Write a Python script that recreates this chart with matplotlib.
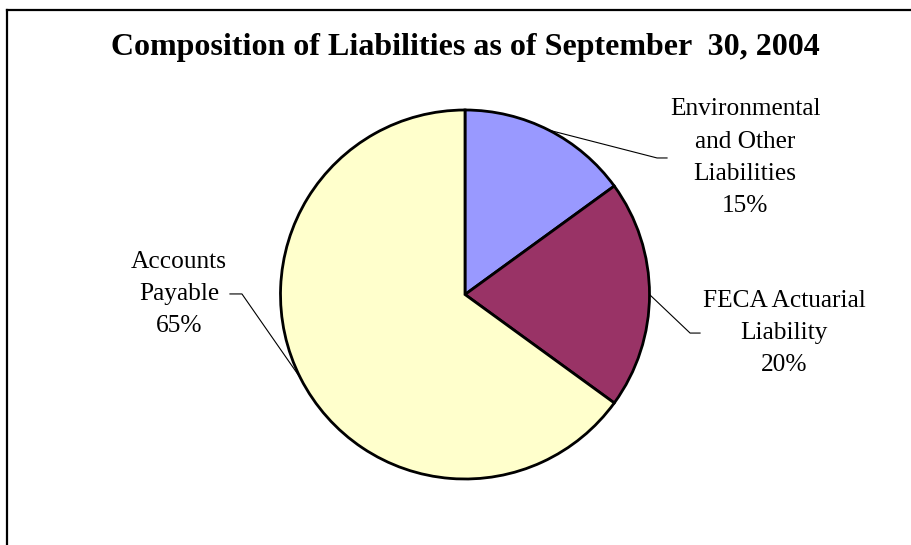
import matplotlib
matplotlib.use("Agg")
import matplotlib.pyplot as plt
from matplotlib.lines import Line2D
import numpy as np

plt.rcParams['font.family'] = ['Liberation Serif', 'DejaVu Serif']

title = "Composition of Liabilities as of September  30, 2004"
categories = ["Environmental\nand Other\nLiabilities", "FECA Actuarial\nLiability", "Accounts\nPayable"]
values = [15, 20, 65]
colors = ["#9999FF", "#993366", "#FFFFCC"]

W, H = 912, 545
fig = plt.figure(figsize=(W / 100, H / 100), dpi=100)

# frame (left and top edges visible)
fig.add_artist(Line2D([7 / W, 7 / W], [0, 1 - 10 / H], transform=fig.transFigure, color="black", lw=1.6))
fig.add_artist(Line2D([7 / W, 1], [1 - 10 / H, 1 - 10 / H], transform=fig.transFigure, color="black", lw=1.6))

cx, cy, r = 465, 294.5, 184.5
ax = fig.add_axes([(cx - r) / W, (H - cy - r) / H, 2 * r / W, 2 * r / H])
wedges, _ = ax.pie(values, colors=colors, startangle=90, counterclock=False, radius=1,
                   wedgeprops=dict(edgecolor="black", linewidth=2))
ax.set_xlim(-1, 1)
ax.set_ylim(-1, 1)
ax.set_aspect("equal")
ax.axis("off")

# layout of labels: (elbow point, end of horizontal, text center) in pie units
layout = [
    ((1.041, 0.740), (1.095, 0.740), (1.518, 0.742)),
    ((1.220, -0.209), (1.274, -0.209), (1.729, -0.209)),
    ((-1.209, 0.003), (-1.274, 0.003), (-1.550, 0.003)),
]

for w, cat, v, (elb, end, tc) in zip(wedges, categories, values, layout):
    ang = np.deg2rad((w.theta1 + w.theta2) / 2)
    p0 = (np.cos(ang), np.sin(ang))
    ax.add_line(Line2D([p0[0], elb[0], end[0]], [p0[1], elb[1], end[1]],
                       color="black", lw=0.8, clip_on=False))
    ax.text(tc[0], tc[1], f"{cat}\n{v}%", ha="center", va="center", fontsize=18.3,
            linespacing=1.6, clip_on=False)

fig.text(465 / W, 1 - 47 / H, title, ha="center", va="center", fontsize=23, fontweight="bold")

fig.savefig("out.png", dpi=100)
